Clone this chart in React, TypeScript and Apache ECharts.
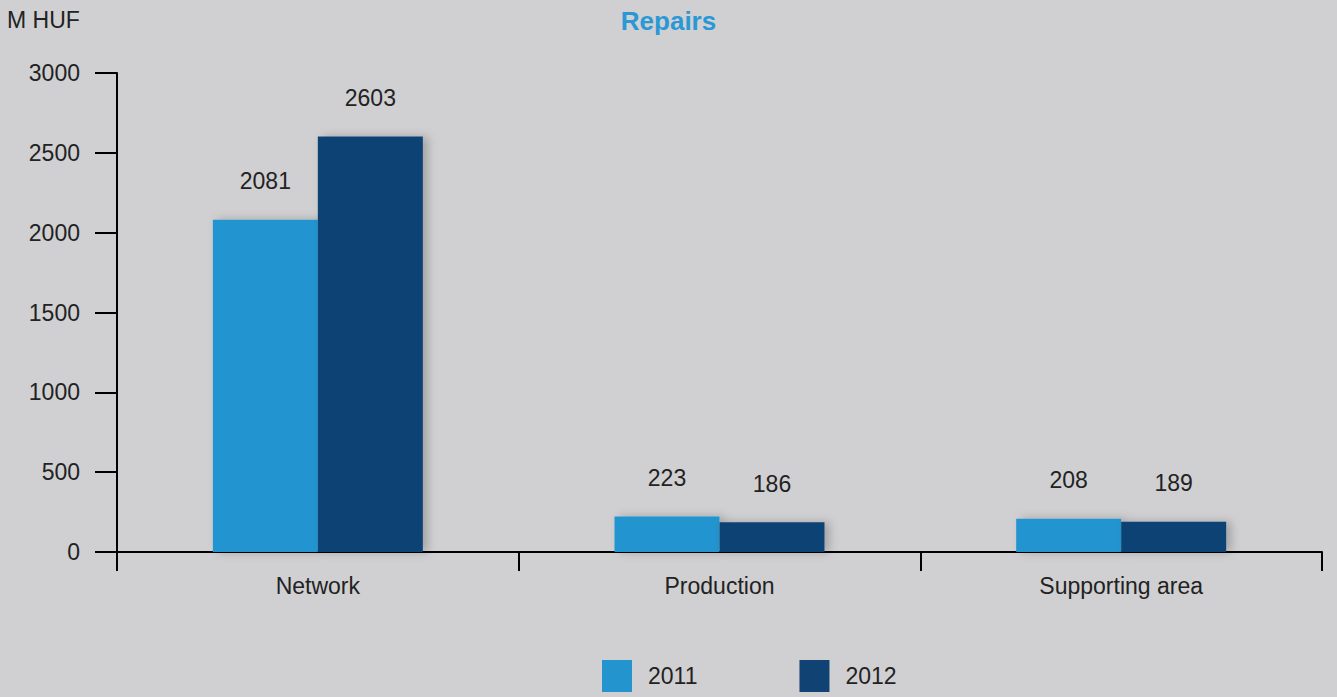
import React, { useEffect, useRef } from "react";
import * as echarts from "echarts";

const categories = ["Network", "Production", "Supporting area"];
const series2011 = [2081, 223, 208];
const series2012 = [2603, 186, 189];
const seriesNames = ["2011", "2012"];
const yTicks = { min: 0, max: 3000, interval: 500 };

const FONT = "Liberation Sans, Arial, sans-serif";

export default function App() {
  const ref = useRef<HTMLDivElement>(null);
  useEffect(() => {
    if (!ref.current) return;
    const chart = echarts.init(ref.current, null, { renderer: "svg" });
    const labelStyle = {
      show: true,
      position: "top" as const,
      distance: 27,
      color: "#222",
      fontSize: 23,
      fontFamily: FONT,
    };
    const barShadow = {
      shadowBlur: 10,
      shadowColor: "rgba(0,0,0,0.22)",
      shadowOffsetX: 5,
      shadowOffsetY: 0,
    };
    chart.setOption({
      animation: false,
      backgroundColor: "#d0d0d2",
      textStyle: { fontFamily: FONT },
      title: {
        text: "Repairs",
        left: "center",
        top: 3,
        textStyle: { color: "#2a98d5", fontSize: 26, fontWeight: "bold", fontFamily: FONT },
      },
      graphic: [
        {
          type: "text",
          left: 7,
          top: 8,
          style: { text: "M HUF", fill: "#222", fontSize: 23, fontFamily: FONT },
        },
      ],
      legend: {
        top: 655,
        left: 597,
        itemWidth: 30,
        itemHeight: 32,
        itemGap: 102,
        icon: "rect",
        textStyle: { color: "#222", fontSize: 23, fontFamily: FONT, padding: [0, 0, 0, 11] },
        data: seriesNames,
      },
      grid: { left: 117, right: 15, top: 73, bottom: 145, containLabel: false },
      xAxis: {
        type: "category",
        data: categories,
        axisLine: { show: true, lineStyle: { color: "#000", width: 2 } },
        axisTick: { show: true, length: 19, lineStyle: { color: "#000", width: 2 } },
        axisLabel: { color: "#222", fontSize: 23, margin: 22, fontFamily: FONT },
        splitLine: { show: false },
      },
      yAxis: {
        type: "value",
        min: yTicks.min,
        max: yTicks.max,
        interval: yTicks.interval,
        axisLine: { show: true, lineStyle: { color: "#000", width: 2 } },
        axisTick: { show: true, length: 22, lineStyle: { color: "#000", width: 2 } },
        axisLabel: {
          color: "#222",
          fontSize: 23,
          margin: 37,
          fontFamily: FONT,
          formatter: (v: number) => String(v),
        },
        splitLine: { show: false },
      },
      series: [
        {
          name: seriesNames[0],
          type: "bar",
          data: series2011,
          barWidth: 105,
          barGap: "0%",
          itemStyle: { color: "#2494cf", ...barShadow },
          label: labelStyle,
        },
        {
          name: seriesNames[1],
          type: "bar",
          data: series2012,
          barWidth: 105,
          barGap: "0%",
          itemStyle: { color: "#114274", ...barShadow },
          label: labelStyle,
        },
      ],
    });
    return () => chart.dispose();
  }, []);
  return (
    <div
      ref={ref}
      style={{ position: "absolute", left: 0, top: 0, width: 1337, height: 697 }}
    />
  );
}
